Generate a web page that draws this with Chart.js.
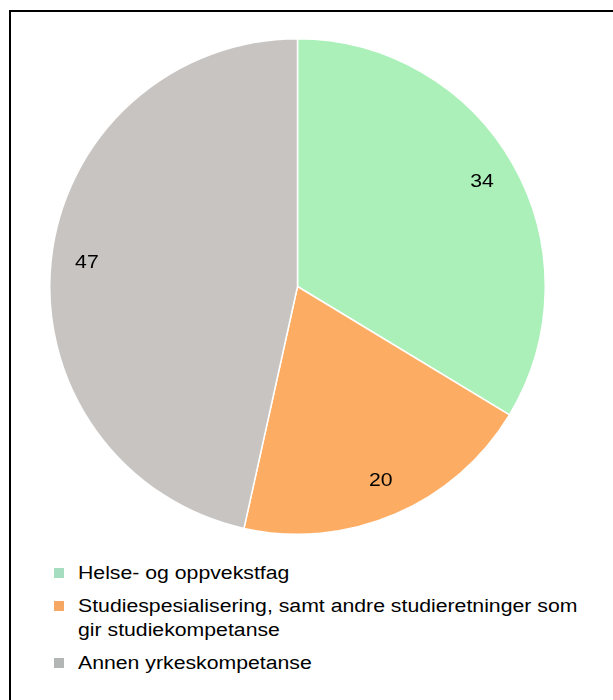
<!DOCTYPE html>
<html lang="no">
<head>
<meta charset="utf-8">
<script src="https://cdn.jsdelivr.net/npm/chart.js@4"></script>
<style>
    html, body { margin: 0; padding: 0; background: #fff; }
    body { width: 613px; height: 700px; position: relative; overflow: hidden; font-family: "Liberation Sans", Arial, sans-serif; }
    .frame { position: absolute; left: 9px; top: 10px; width: 640px; height: 720px; border: 2.5px solid #000; box-sizing: border-box; }
    .pie-box { position: absolute; left: 49px; top: 38px; width: 497px; height: 497px; }
    .legend { position: absolute; left: 54px; top: 561px; list-style: none; margin: 0; padding: 0; }
    .legend li { position: relative; padding-left: 24px; font-size: 18px; line-height: 24px; color: #000; margin-bottom: 9px; }
    .legend li span.sw { position: absolute; left: 0; top: 7px; width: 10px; height: 10px; }
    .legend li span.txt { display: block; width: 432px; transform: scaleX(1.18); transform-origin: 0 0; }
</style>
</head>
<body>
<div class="frame"></div>
<div class="pie-box"><canvas id="pie"></canvas></div>
<ul class="legend" id="legend"></ul>
<script>
const categories = [
    'Helse- og oppvekstfag',
    'Studiespesialisering, samt andre studieretninger som gir studiekompetanse',
    'Annen yrkeskompetanse'
];
const shares = [34, 20, 47];
const sliceColors = ['#abf0b9', '#fdad63', '#c8c4c2'];
const swatchColors = ['#a6dcbf', '#f6a764', '#b2b6b5'];

// Value labels placed along each slice's middle angle
const sliceLabels = {
    id: 'sliceLabels',
    afterDatasetsDraw(chart) {
        const { ctx } = chart;
        const meta = chart.getDatasetMeta(0);
        ctx.save();
        ctx.font = '18px "Liberation Sans", Arial, sans-serif';
        ctx.fillStyle = '#000';
        ctx.textAlign = 'center';
        ctx.textBaseline = 'middle';
        meta.data.forEach((arc, i) => {
            const { x, y, startAngle, endAngle, outerRadius } = arc.getProps(['x', 'y', 'startAngle', 'endAngle', 'outerRadius'], true);
            const mid = (startAngle + endAngle) / 2;
            const r = outerRadius * 0.855;
            ctx.save();
            ctx.translate(x + Math.cos(mid) * r, y + Math.sin(mid) * r);
            ctx.scale(1.18, 1);
            ctx.fillText(String(shares[i]), 0, 0);
            ctx.restore();
        });
        ctx.restore();
    }
};

new Chart(document.getElementById('pie').getContext('2d'), {
    type: 'pie',
    data: {
        labels: categories,
        datasets: [{
            data: shares,
            backgroundColor: sliceColors,
            borderColor: '#ffffff',
            borderWidth: 1.5
        }]
    },
    options: {
        responsive: true,
        maintainAspectRatio: false,
        animation: false,
        layout: { padding: 0 },
        plugins: {
            legend: { display: false },
            tooltip: { enabled: false }
        }
    },
    plugins: [sliceLabels]
});

const legendEl = document.getElementById('legend');
categories.forEach((name, i) => {
    const li = document.createElement('li');
    const sw = document.createElement('span');
    sw.className = 'sw';
    sw.style.background = swatchColors[i];
    const txt = document.createElement('span');
    txt.className = 'txt';
    txt.textContent = name;
    li.appendChild(sw);
    li.appendChild(txt);
    legendEl.appendChild(li);
});
</script>
</body>
</html>
